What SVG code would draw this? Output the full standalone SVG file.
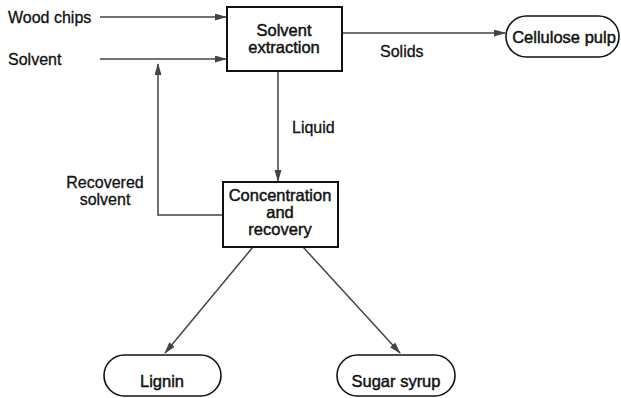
<svg xmlns="http://www.w3.org/2000/svg" width="621" height="398" viewBox="0 0 621 398">
<style>
text{font-family:"Liberation Sans",Arial,sans-serif;font-size:16px;fill:#111;stroke:#111;stroke-width:0.3}
.c{text-anchor:middle}
.n{font-size:16.5px;stroke-width:0.45}
.box{fill:#fff;stroke:#111;stroke-width:2}
.pill{fill:#fff;stroke:#111;stroke-width:1.6}
.ln{fill:none;stroke:#444;stroke-width:1.5}
</style>
<defs>
<marker id="ah" markerUnits="userSpaceOnUse" markerWidth="12" markerHeight="8" refX="11" refY="3.5" orient="auto">
<path d="M0,0 L12,3.5 L0,7 z" fill="#444"/>
</marker>
</defs>
<rect width="621" height="398" fill="#fff"/>
<g id="connectors">
<line class="ln" x1="100" y1="17" x2="226" y2="17" marker-end="url(#ah)"/>
<line class="ln" x1="100" y1="59" x2="226" y2="59" marker-end="url(#ah)"/>
<path class="ln" d="M223,215 H158 V64" marker-end="url(#ah)"/>
<line class="ln" x1="278" y1="71" x2="278" y2="181" marker-end="url(#ah)"/>
<line class="ln" x1="342" y1="33" x2="505" y2="33" marker-end="url(#ah)"/>
<line class="ln" x1="253" y1="247" x2="165" y2="353" marker-end="url(#ah)"/>
<line class="ln" x1="303" y1="247" x2="400" y2="353" marker-end="url(#ah)"/>
<text x="8" y="23">Wood chips</text>
<text x="8" y="65">Solvent</text>
<text x="380" y="57">Solids</text>
<text x="292" y="133">Liquid</text>
<text class="c" x="105" y="188">Recovered</text>
<text class="c" x="105" y="205">solvent</text>
</g>
<g id="solvent-extraction">
<rect class="box" x="227" y="7" width="115" height="64"/>
<text class="c n" x="284" y="36">Solvent</text>
<text class="c n" x="284" y="53">extraction</text>
</g>
<g id="concentration-recovery">
<rect class="box" x="223" y="182" width="115" height="65"/>
<text class="c n" x="280" y="201">Concentration</text>
<text class="c n" x="280" y="218">and</text>
<text class="c n" x="280" y="235">recovery</text>
</g>
<g id="cellulose-pulp">
<rect class="pill" x="506" y="16" width="113" height="41" rx="20.5"/>
<text class="c n" x="564" y="43">Cellulose pulp</text>
</g>
<g id="lignin">
<rect class="pill" x="104" y="355" width="117" height="41" rx="20.5"/>
<text class="c n" x="162" y="387">Lignin</text>
</g>
<g id="sugar-syrup">
<rect class="pill" x="337" y="355" width="118" height="41" rx="20.5"/>
<text class="c n" x="396" y="387">Sugar syrup</text>
</g>
</svg>
